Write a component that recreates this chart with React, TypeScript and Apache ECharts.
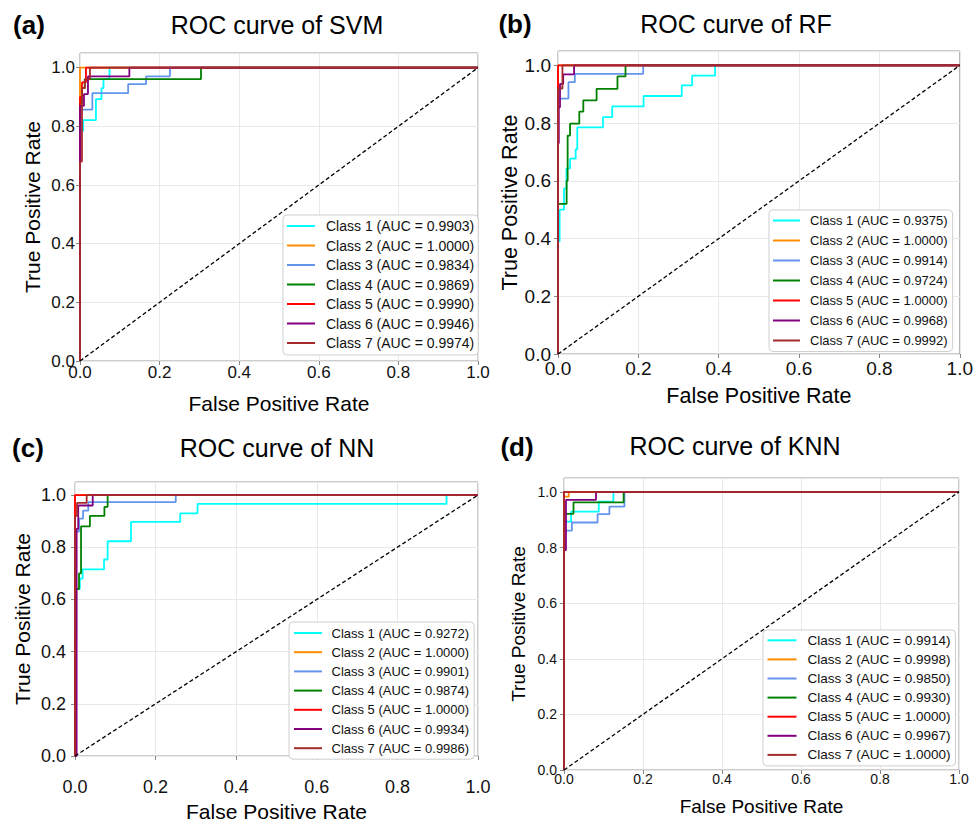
import React, { useEffect, useRef } from 'react';
import * as echarts from 'echarts';

// ---------- data ----------
const CLASS_NAMES = ['Class 1', 'Class 2', 'Class 3', 'Class 4', 'Class 5', 'Class 6', 'Class 7'];
const CLASS_COLORS = ['#00ffff', '#ff8c00', '#6495ed', '#008000', '#ff0000', '#800080', '#a52a2a'];
const AXIS_TICKS = [0, 0.2, 0.4, 0.6, 0.8, 1.0];
const DIAG_X = [0, 1];
const DIAG_Y = [0, 1];

// (a) SVM
const SVM_AUC = ['0.9903', '1.0000', '0.9834', '0.9869', '0.9990', '0.9946', '0.9974'];
const SVM_FPR = [
  [0, 0, 0.008, 0.008, 0.04, 0.04, 0.054, 0.054, 0.059, 0.059, 0.074, 0.074, 1],
  [0, 0, 1],
  [0, 0, 0.031, 0.031, 0.121, 0.121, 0.166, 0.166, 0.226, 0.226, 1],
  [0, 0, 0.005, 0.005, 0.012, 0.012, 0.304, 0.304, 1],
  [0, 0, 0.005, 0.005, 0.015, 0.015, 1],
  [0, 0, 0.01, 0.01, 0.02, 0.02, 0.124, 0.124, 1],
  [0, 0, 0.005, 0.005, 0.012, 0.012, 0.025, 0.025, 1],
];
const SVM_TPR = [
  [0, 0.785, 0.785, 0.821, 0.821, 0.893, 0.893, 0.93, 0.93, 0.962, 0.962, 1, 1],
  [0, 1, 1],
  [0, 0.857, 0.857, 0.913, 0.913, 0.944, 0.944, 0.97, 0.97, 1, 1],
  [0, 0.88, 0.88, 0.93, 0.93, 0.961, 0.961, 1, 1],
  [0, 0.9, 0.9, 0.95, 0.95, 1, 1],
  [0, 0.87, 0.87, 0.91, 0.91, 0.97, 0.97, 1, 1],
  [0, 0.68, 0.68, 0.93, 0.93, 0.96, 0.96, 1, 1],
];

// (b) RF
const RF_AUC = ['0.9375', '1.0000', '0.9914', '0.9724', '1.0000', '0.9968', '0.9992'];
const RF_FPR = [
  [0, 0, 0.004, 0.004, 0.015, 0.015, 0.021, 0.021, 0.03, 0.03, 0.044, 0.044, 0.048, 0.048, 0.112, 0.112, 0.135, 0.135, 0.213, 0.213, 0.308, 0.308, 0.334, 0.334, 0.391, 0.391, 1],
  [0, 0, 1],
  [0, 0, 0.026, 0.026, 0.042, 0.042, 0.212, 0.212, 1],
  [0, 0, 0.0215, 0.0215, 0.024, 0.024, 0.03, 0.03, 0.053, 0.053, 0.063, 0.063, 0.096, 0.096, 0.148, 0.148, 0.168, 0.168, 1],
  [0, 0, 1],
  [0, 0, 0.002, 0.002, 0.005, 0.005, 0.013, 0.013, 0.04, 0.04, 1],
  [0, 0, 0.011, 0.011, 1],
];
const RF_TPR = [
  [0, 0.39, 0.39, 0.5, 0.5, 0.573, 0.573, 0.643, 0.643, 0.677, 0.677, 0.709, 0.709, 0.785, 0.785, 0.821, 0.821, 0.858, 0.858, 0.894, 0.894, 0.931, 0.931, 0.965, 0.965, 1, 1],
  [0, 1, 1],
  [0, 0.885, 0.885, 0.942, 0.942, 0.971, 0.971, 1, 1],
  [0, 0.52, 0.52, 0.6, 0.6, 0.757, 0.757, 0.798, 0.798, 0.84, 0.84, 0.879, 0.879, 0.919, 0.919, 0.962, 0.962, 1, 1],
  [0, 1, 1],
  [0, 0.73, 0.73, 0.855, 0.855, 0.936, 0.936, 0.969, 0.969, 1, 1],
  [0, 0.92, 0.92, 1, 1],
];

// (c) NN
const NN_AUC = ['0.9272', '1.0000', '0.9901', '0.9874', '1.0000', '0.9934', '0.9986'];
const NN_FPR = [
  [0, 0, 0.012, 0.012, 0.019, 0.019, 0.072, 0.072, 0.081, 0.081, 0.139, 0.139, 0.261, 0.261, 0.304, 0.304, 0.922, 0.922, 1],
  [0, 0, 1],
  [0, 0, 0.01, 0.01, 0.02, 0.02, 0.033, 0.033, 0.25, 0.25, 1],
  [0, 0, 0.003, 0.003, 0.01, 0.01, 0.015, 0.015, 0.037, 0.037, 0.073, 0.073, 0.081, 0.081, 1],
  [0, 0, 1],
  [0, 0.004, 0.004, 0.008, 0.008, 0.044, 0.044, 1],
  [0, 0, 0.005, 0.005, 0.029, 0.029, 1],
];
const NN_TPR = [
  [0, 0.64, 0.64, 0.68, 0.68, 0.715, 0.715, 0.753, 0.753, 0.823, 0.823, 0.897, 0.897, 0.93, 0.93, 0.966, 0.966, 1, 1],
  [0, 1, 1],
  [0, 0.86, 0.86, 0.91, 0.91, 0.94, 0.94, 0.973, 0.973, 1, 1],
  [0, 0.45, 0.45, 0.64, 0.64, 0.7, 0.7, 0.88, 0.88, 0.92, 0.92, 0.955, 0.955, 1, 1],
  [0, 1, 1],
  [0, 0, 0.87, 0.87, 0.96, 0.96, 1, 1],
  [0, 0.92, 0.92, 0.97, 0.97, 1, 1],
];

// (d) KNN
const KNN_AUC = ['0.9914', '0.9998', '0.9850', '0.9930', '1.0000', '0.9967', '1.0000'];
const KNN_FPR = [
  [0, 0, 0.018, 0.018, 0.088, 0.088, 0.125, 0.125, 1],
  [0, 0, 0.012, 0.012, 1],
  [0, 0, 0.02, 0.02, 0.085, 0.085, 0.115, 0.115, 0.153, 0.153, 1],
  [0, 0, 0.024, 0.024, 0.151, 0.151, 1],
  [0, 0, 1],
  [0, 0, 0.005, 0.005, 0.081, 0.081, 1],
  [0, 0, 1],
];
const KNN_TPR = [
  [0, 0.893, 0.893, 0.929, 0.929, 0.965, 0.965, 1, 1],
  [0, 0.983, 0.983, 1, 1],
  [0, 0.861, 0.861, 0.89, 0.89, 0.92, 0.92, 0.947, 0.947, 1, 1],
  [0, 0.921, 0.921, 0.962, 0.962, 1, 1],
  [0, 1, 1],
  [0, 0.791, 0.791, 0.971, 0.971, 1, 1],
  [0, 1, 1],
];

// ---------- layout ----------
const FONT = '"Liberation Sans", Arial, Helvetica, sans-serif';
const FRAME = '#9a9a9a';
const GRIDC = '#e9e9e9';

const PANELS = [
  {
    key: 'a', label: '(a)', title: 'ROC curve of SVM', fpr: SVM_FPR, tpr: SVM_TPR, auc: SVM_AUC,
    grid: [80, 53, 398, 308], tickFont: 17, xLabelMargin: 3, yLabelMargin: 5, nameFont: 21,
    xNameGap: 32, yNameGap: 37, titleX: 277, titleY: 25, labelX: 29, labelY: 25,
    lg: { left: 283, top: 215, font: 14, itemWidth: 28, itemGap: 5.5, pad: [4, 4, 5, 4], textPad: 6 },
  },
  {
    key: 'b', label: '(b)', title: 'ROC curve of RF', fpr: RF_FPR, tpr: RF_TPR, auc: RF_AUC,
    grid: [558, 51, 403, 303], tickFont: 19, xLabelMargin: 5, yLabelMargin: 7, nameFont: 21.5,
    xNameGap: 31, yNameGap: 37, titleX: 736, titleY: 24, labelX: 515, labelY: 24,
    lg: { left: 769, top: 210, font: 13, itemWidth: 27, itemGap: 6, pad: [3.5, 5, 4, 4], textPad: 5 },
  },
  {
    key: 'c', label: '(c)', title: 'ROC curve of NN', fpr: NN_FPR, tpr: NN_TPR, auc: NN_AUC,
    grid: [75, 482, 403, 275], tickFont: 18, xLabelMargin: 22, yLabelMargin: 9, nameFont: 21,
    xNameGap: 45, yNameGap: 42, titleX: 277, titleY: 448, labelX: 28, labelY: 448,
    lg: { left: 289, top: 622, font: 13, itemWidth: 28, itemGap: 5.2, pad: [4, 5, 4, 5], textPad: 4.5 },
  },
  {
    key: 'd', label: '(d)', title: 'ROC curve of KNN', fpr: KNN_FPR, tpr: KNN_TPR, auc: KNN_AUC,
    grid: [564, 478, 395, 292], tickFont: 14, xLabelMargin: 2, yLabelMargin: 7, nameFont: 19,
    xNameGap: 27, yNameGap: 36, titleX: 735, titleY: 446, labelX: 517, labelY: 447,
    lg: { left: 763, top: 630, font: 13.5, itemWidth: 29, itemGap: 5.1, pad: [3.3, 5, 4, 4.5], textPad: 6 },
  },
];

function buildOption() {
  const grid: any[] = [];
  const xAxis: any[] = [];
  const yAxis: any[] = [];
  const series: any[] = [];
  const legend: any[] = [];
  const graphic: any[] = [];
  const fmt = (v: number) => (AXIS_TICKS.some((t) => Math.abs(t - v) < 1e-6) ? v.toFixed(1) : '');

  PANELS.forEach((p, i) => {
    grid.push({
      left: p.grid[0], top: p.grid[1], width: p.grid[2], height: p.grid[3],
      show: true, borderColor: FRAME, borderWidth: 1, backgroundColor: 'transparent',
    });
    const common = {
      gridIndex: i,
      type: 'value',
      min: 0,
      interval: 0.2,
      nameLocation: 'middle',
      nameTextStyle: { fontSize: p.nameFont, color: '#000', fontFamily: FONT },
      axisLine: { show: false },
      axisTick: { show: true, length: 4, lineStyle: { color: '#888', width: 1 } },
      splitLine: { show: true, lineStyle: { color: GRIDC, width: 1 } },
    };
    xAxis.push({
      ...common,
      max: 1,
      name: 'False Positive Rate',
      nameGap: p.xNameGap,
      axisLabel: { fontSize: p.tickFont, margin: p.xLabelMargin, color: '#111', fontFamily: FONT, formatter: fmt },
    });
    yAxis.push({
      ...common,
      max: 1.05,
      name: 'True Positive Rate',
      nameGap: p.yNameGap,
      nameRotate: 90,
      axisLabel: { fontSize: p.tickFont, margin: p.yLabelMargin, color: '#111', fontFamily: FONT, formatter: fmt, showMaxLabel: false },
    });

    const names: string[] = [];
    CLASS_NAMES.forEach((cn, k) => {
      const name = `${p.key}::${cn} (AUC = ${p.auc[k]})`;
      names.push(name);
      series.push({
        type: 'line',
        name,
        xAxisIndex: i,
        yAxisIndex: i,
        data: p.fpr[k].map((x: number, j: number) => [x, p.tpr[k][j]]),
        showSymbol: false,
        symbol: 'none',
        silent: true,
        lineStyle: { color: CLASS_COLORS[k], width: 1.8 },
        itemStyle: { color: CLASS_COLORS[k] },
        z: 3,
      });
    });
    series.push({
      type: 'line',
      name: `${p.key}::diag`,
      xAxisIndex: i,
      yAxisIndex: i,
      data: DIAG_X.map((x, j) => [x, DIAG_Y[j]]),
      showSymbol: false,
      symbol: 'none',
      silent: true,
      lineStyle: { color: '#000', width: 1.3, type: [4, 2.5] },
      itemStyle: { color: '#000' },
      z: 4,
    });

    legend.push({
      orient: 'vertical',
      left: p.lg.left,
      top: p.lg.top,
      data: names,
      formatter: (n: string) => n.split('::')[1],
      selectedMode: false,
      icon: 'rect',
      itemWidth: p.lg.itemWidth,
      itemHeight: 2,
      itemGap: p.lg.itemGap,
      padding: p.lg.pad,
      backgroundColor: '#fff',
      borderColor: '#cfcfcf',
      borderWidth: 1,
      borderRadius: 4,
      textStyle: {
        fontSize: p.lg.font,
        lineHeight: 14,
        color: '#111',
        fontFamily: FONT,
        padding: [0, 0, 0, p.lg.textPad],
      },
    });

    graphic.push({
      type: 'text', x: p.titleX, y: p.titleY, silent: true,
      style: { text: p.title, fontSize: 25, fontFamily: FONT, fill: '#000', align: 'center', verticalAlign: 'middle' },
    });
    graphic.push({
      type: 'text', x: p.labelX, y: p.labelY, silent: true,
      style: { text: p.label, fontSize: 26, fontWeight: 'bold', fontFamily: FONT, fill: '#000', align: 'center', verticalAlign: 'middle' },
    });
  });

  return {
    animation: false,
    backgroundColor: '#fff',
    grid,
    xAxis,
    yAxis,
    series,
    legend,
    graphic,
  };
}

export default function App() {
  const ref = useRef<HTMLDivElement>(null);
  useEffect(() => {
    const chart = echarts.init(ref.current as HTMLDivElement, null, { renderer: 'svg' });
    chart.setOption(buildOption() as any);
    return () => {
      chart.dispose();
    };
  }, []);
  return (
    <div
      ref={ref}
      style={{ position: 'absolute', left: 0, top: 0, width: 976, height: 823, background: '#fff' }}
    />
  );
}
